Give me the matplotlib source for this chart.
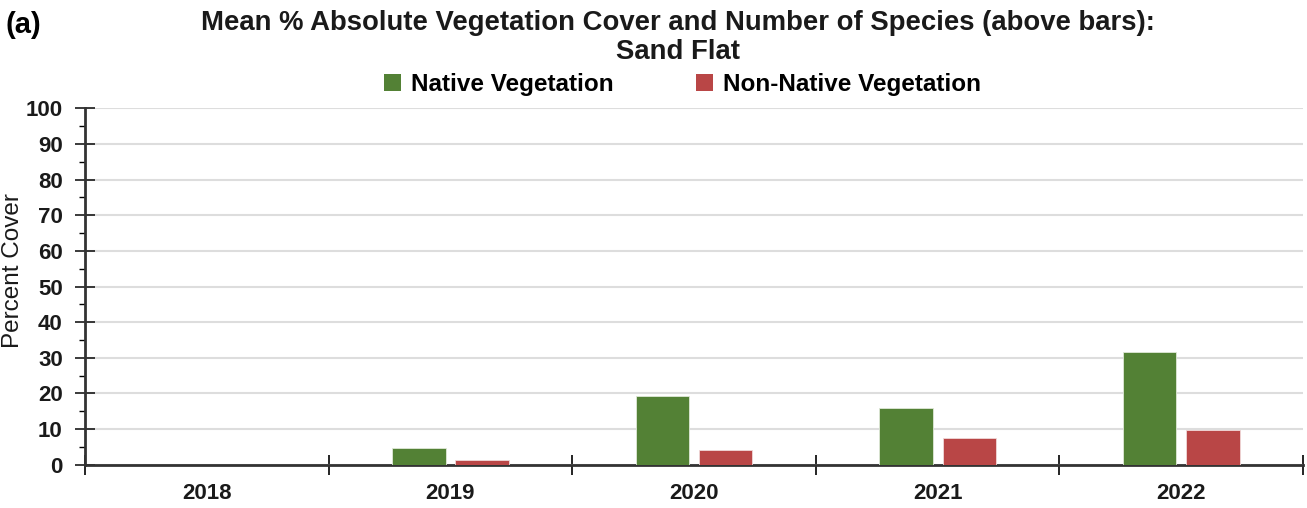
import numpy as np
import matplotlib
matplotlib.use("Agg")
import matplotlib.pyplot as plt
from matplotlib.patches import Patch

years = ["2018", "2019", "2020", "2021", "2022"]
native = [0, 4.7, 19.3, 15.9, 31.6]
non_native = [0, 1.3, 4.2, 7.5, 9.7]

green = "#538135"
red = "#B94646"

plt.rcParams['font.family'] = ['Liberation Sans', 'DejaVu Sans']
plt.rcParams['font.weight'] = 'bold'

fig = plt.figure(figsize=(13.07, 5.08), dpi=100)
ax = fig.add_axes([0.065, 0.085, 0.932, 0.702])

x = np.arange(len(years))
w = 0.22
ax.bar(x - 0.13, native, w, color=green, edgecolor="#dfe8d8", linewidth=0.6, zorder=3)
ax.bar(x + 0.13, non_native, w, color=red, edgecolor="#f0d8d8", linewidth=0.6, zorder=3)

ax.set_xlim(-0.5, len(years) - 0.5)
ax.set_ylim(0, 100)

# y axis
ax.set_yticks(np.arange(0, 101, 10))
ax.set_yticks(np.arange(0, 101, 5), minor=True)
ax.tick_params(axis='y', which='major', direction='inout', length=14, width=1.2,
               labelsize=16, pad=9, colors='#1a1a1a')
ax.tick_params(axis='y', which='minor', direction='out', length=4, width=1)
ax.yaxis.grid(True, color='#dddddd', linewidth=1.5, zorder=0)
ax.set_ylabel("Percent Cover", fontsize=17.5, fontweight='normal', color='#1a1a1a')
ax.yaxis.set_label_coords(-0.05, 0.546)

# x axis: labels at centers, ticks at boundaries
ax.set_xticks(x)
ax.set_xticklabels(years)
ax.set_xticks(np.arange(-0.5, len(years)), minor=True)
ax.tick_params(axis='x', which='major', length=0, labelsize=16, pad=13, colors='#1a1a1a')
ax.tick_params(axis='x', which='minor', direction='inout', length=14, width=1.2)

for s in ['top', 'right']:
    ax.spines[s].set_visible(False)
for s in ['left', 'bottom']:
    ax.spines[s].set_linewidth(2)
    ax.spines[s].set_color('#333333')

fig.text(0.519, 0.981, "Mean % Absolute Vegetation Cover and Number of Species (above bars):\nSand Flat",
         ha='center', va='top', fontsize=19.8, fontweight='bold', linespacing=1.15,
         color='#1a1a1a')
fig.text(0.004, 0.978, "(a)", ha='left', va='top', fontsize=21, fontweight='bold')

handles = [Patch(facecolor=green, label="Native Vegetation"),
           Patch(facecolor=red, label="Non-Native Vegetation")]
fig.legend(handles=handles, loc='center', bbox_to_anchor=(0.522, 0.833), ncol=2,
           frameon=False, handlelength=0.7, handleheight=0.7,
           handletextpad=0.4, columnspacing=3.4,
           prop={'weight': 'bold', 'size': 17.5})

fig.savefig("out.png", dpi=100)
